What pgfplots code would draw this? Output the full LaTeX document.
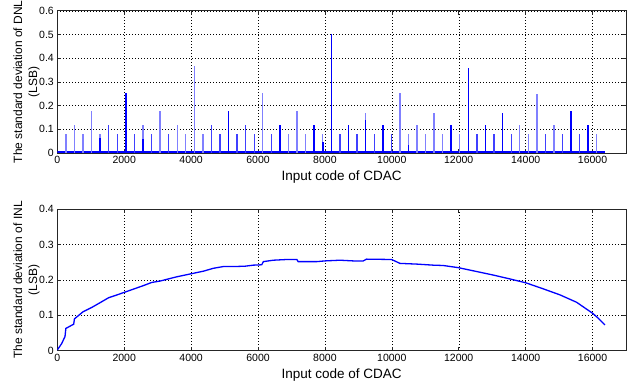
\documentclass[border=0pt]{standalone}
\usepackage{pgfplots}
\pgfplotsset{compat=1.18}
\usepackage{fontspec}
\setmainfont{Liberation Sans}
\pgfplotsset{mat/.style={
  scale only axis, width=568.7pt,
  xmin=0, xmax=17000, xtick={0,2000,...,16000},
  scaled x ticks=false, scaled y ticks=false,
  /pgf/number format/assume math mode=true,
  xticklabel style={/pgf/number format/.cd, set thousands separator={}},
  yticklabel style={/pgf/number format/.cd, fixed},
  grid=major, grid style={black, line width=0.4pt, dash pattern=on 1pt off 2pt},
  axis line style={black!85, line width=0.6pt},
  tick style={black!85, line width=0.5pt},
  major tick length=4pt,
  tick align=inside,
  ticklabel style={font=\fontsize{10.5}{12}\selectfont},
  xlabel={Input code of CDAC},
  xlabel style={at={(axis description cs:0.5,0)}, anchor=center, yshift=-24pt, font=\fontsize{13.5}{15}\selectfont},
  ylabel style={at={(axis description cs:-0.0542,0.5)}, anchor=center, align=center, font=\fontsize{12}{15}\selectfont},
}}
\begin{document}
\begin{tikzpicture}
\useasboundingbox (0,0) rectangle (630pt,385pt);
\begin{axis}[mat, at={(57.3pt,232pt)}, anchor=south west, height=142.3pt,
  ymin=0, ymax=0.6, ytick={0,0.1,...,0.6},
  ylabel={The standard deviation of DNL\\(LSB)}]
% noisy baseline band
\addplot[blue, line width=2.4pt, forget plot] coordinates {(0,0.0045) (16384,0.0045)};
% light spikes
\addplot[ycomb, blue!50, line width=1.3pt, mark=none] coordinates {
(256,0.08) (512,0.12) (768,0.08) (1024,0.175) (1280,0.08) (2560,0.12) (3072,0.175)
(3584,0.12) (3840,0.08) (4096,0.365) (4352,0.08) (6144,0.255) (6912,0.08) (7168,0.175)
(7424,0.08) (7936,0.08) (9216,0.17) (10240,0.255) (10496,0.08) (10752,0.12) (11008,0.08)
(11264,0.17) (11520,0.08) (12032,0.08) (13824,0.12) (14080,0.08) (14336,0.25) (14848,0.12)
(16128,0.08)};
% medium spikes
\addplot[ycomb, blue!75, line width=1.3pt, mark=none] coordinates {
(1536,0.12) (1792,0.08) (2304,0.08) (2816,0.08) (3328,0.08) (4608,0.12) (4864,0.08)
(5376,0.08) (5632,0.12) (5888,0.08) (6400,0.08) (8448,0.08) (8960,0.08) (9472,0.08)
(9984,0.08) (12544,0.08) (13056,0.08) (13568,0.08) (14592,0.08) (15104,0.08) (15616,0.08)};
% dark spikes
\addplot[ycomb, blue, line width=1.6pt, mark=none] coordinates {
(1280,0.065) (2048,0.255) (2560,0.06) (5120,0.175) (6656,0.12) (7680,0.12) (7936,0.045)
(8192,0.5) (8704,0.12) (9216,0.14) (9728,0.12) (10496,0.035) (11776,0.12) (12288,0.36)
(12800,0.12) (13312,0.17) (15360,0.175) (15872,0.12)};
\end{axis}
\begin{axis}[mat, at={(57.3pt,34.3pt)}, anchor=south west, height=141.4pt,
  ymin=0, ymax=0.4, ytick={0,0.1,...,0.4},
  ylabel={The standard deviation of INL\\(LSB)}]
\addplot[blue, line width=1.3pt, mark=none] coordinates {
(0,0.002) (130,0.02) (230,0.04) (256,0.063) (490,0.075) (512,0.09) (768,0.11)
(1024,0.122) (1300,0.137) (1536,0.15) (1790,0.158) (2000,0.165) (2270,0.174)
(2570,0.184) (2820,0.193) (3070,0.197) (3320,0.203) (3570,0.209) (3820,0.214)
(4070,0.219) (4370,0.225) (4660,0.233) (4960,0.238) (5260,0.238) (5610,0.239)
(5860,0.242) (6110,0.243) (6160,0.252) (6460,0.256) (6860,0.258) (7160,0.258)
(7200,0.252) (7760,0.252) (8000,0.254) (8450,0.256) (8846,0.254) (9145,0.254)
(9246,0.259) (9994,0.258) (10242,0.247) (10740,0.245) (11237,0.242) (11536,0.241)
(11984,0.235) (12534,0.224) (13031,0.214) (13530,0.203) (14008,0.192) (14525,0.175)
(15024,0.158) (15523,0.137) (16000,0.106) (16170,0.092) (16369,0.073)};
\end{axis}
\end{tikzpicture}
\end{document}
